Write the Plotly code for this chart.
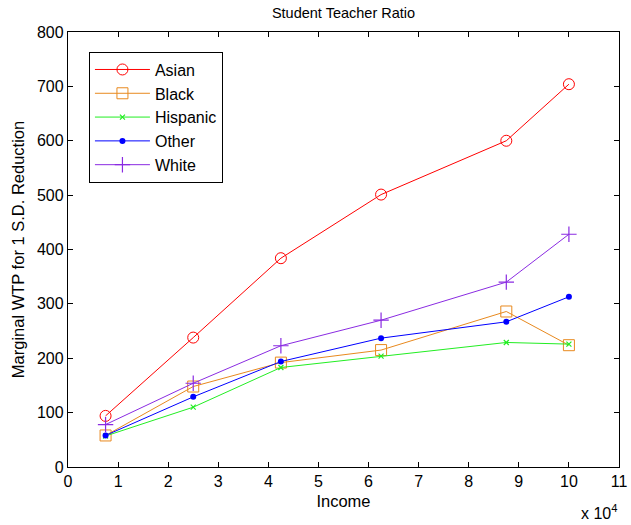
import plotly.graph_objects as go

income = [7500, 25000, 42500, 62500, 87500, 100000]
asian = [94, 238, 384, 501, 600, 704]
black = [58, 148, 192, 215, 286, 224]
hispanic = [57, 110, 183, 204, 229, 226]
other = [58, 129, 194, 237, 267, 313]
white = [78, 154, 223, 270, 340, 428]

x_tick_vals = [0, 10000, 20000, 30000, 40000, 50000, 60000, 70000, 80000, 90000, 100000, 110000]
x_tick_text = ["0", "1", "2", "3", "4", "5", "6", "7", "8", "9", "10", "11"]
y_tick_vals = [0, 100, 200, 300, 400, 500, 600, 700, 800]

series = [
    ("Asian", asian, "#FF0000", dict(symbol="circle-open", size=11, line=dict(width=1))),
    ("Black", black, "#E8891E", dict(symbol="square-open", size=11, line=dict(width=1))),
    ("Hispanic", hispanic, "#22EE22", dict(symbol="x-thin-open", size=5, line=dict(width=1.2))),
    ("Other", other, "#0000FF", dict(symbol="circle", size=6)),
    ("White", white, "#8A2BE2", dict(symbol="cross-thin-open", size=11, line=dict(width=1.2))),
]

fig = go.Figure()
for name, vals, color, marker in series:
    m = dict(marker)
    m["color"] = color
    if "line" in m:
        m["line"] = dict(m["line"], color=color)
    fig.add_trace(go.Scatter(
        x=income, y=vals, name=name, mode="lines+markers",
        line=dict(color=color, width=1), marker=m,
    ))

FONT = "Liberation Sans, Arial, sans-serif"
tick_font = dict(family=FONT, size=16, color="black")
label_font = dict(family=FONT, size=16.5, color="black")

W, H = 631, 525

fig.update_layout(
    width=W, height=H,
    margin=dict(l=68, r=12, t=32, b=58),
    paper_bgcolor="white", plot_bgcolor="white",
    font=tick_font,
    title=dict(text="Student Teacher Ratio", x=0.5, xref="paper", xanchor="center",
               y=1 - 13 / H, yref="container", yanchor="middle",
               font=dict(family=FONT, size=14.5, color="black")),
    showlegend=True,
    legend=dict(x=0.038, y=0.955, xanchor="left", yanchor="top",
                bgcolor="white", bordercolor="black", borderwidth=1,
                font=dict(family=FONT, size=16, color="black"), itemwidth=55),
    xaxis=dict(range=[0, 110000], tickmode="array", tickvals=x_tick_vals, ticktext=x_tick_text,
               ticks="inside", ticklen=5, tickcolor="black", showline=True, linecolor="black",
               linewidth=1.3, mirror="ticks", showgrid=False, zeroline=False, automargin=False,
               title=dict(text="Income", standoff=6, font=label_font),
               tickfont=tick_font),
    yaxis=dict(range=[0, 800], tickmode="array", tickvals=y_tick_vals,
               ticks="inside", ticklen=5, tickcolor="black", showline=True, linecolor="black",
               linewidth=1.3, mirror="ticks", showgrid=False, zeroline=False, automargin=False,
               title=dict(text="Marginal WTP for 1 S.D. Reduction", standoff=8, font=label_font),
               tickfont=tick_font),
)

fig.add_annotation(text="x 10<sup>4</sup>", xref="paper", yref="paper", x=1.0, y=-0.103,
                   xanchor="right", yanchor="middle", showarrow=False,
                   font=dict(family=FONT, size=16, color="black"))

# remove the default page margin so the figure fills the 631x525 window exactly
fig.write_html("out.html", config={"displayModeBar": False},
               post_script="document.body.style.margin='0';document.body.style.overflow='hidden';")
